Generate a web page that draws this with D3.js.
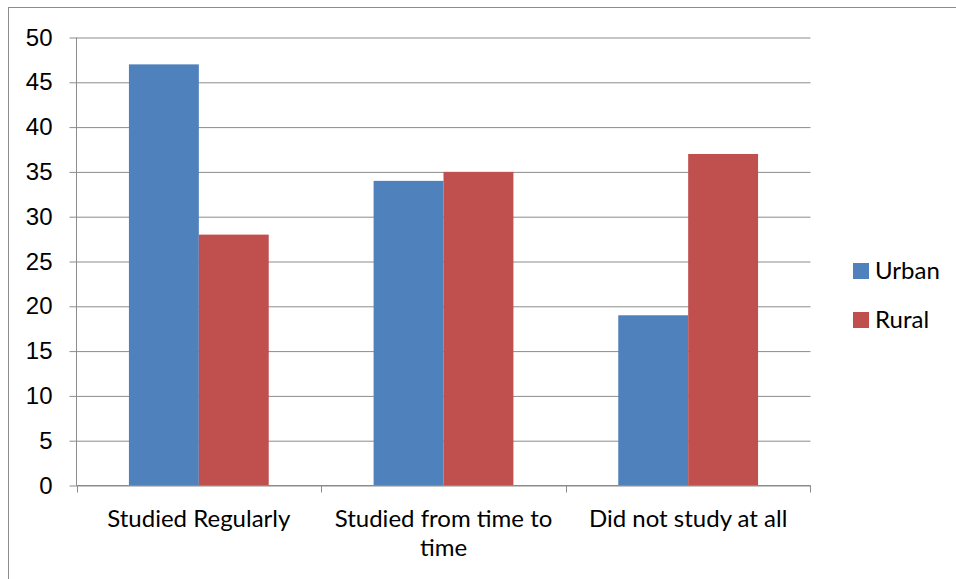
<!DOCTYPE html>
<html>
<head>
<meta charset="utf-8">
<script src="https://cdn.jsdelivr.net/npm/d3@7"></script>
<style>
  html, body { margin: 0; padding: 0; background: #fff; }
  svg { display: block; font-family: Lato, "Open Sans", sans-serif; }
</style>
</head>
<body>
<svg id="chart" width="956" height="579"></svg>
<script>
// Study habits by area
const categories = ["Studied Regularly", "Studied from time to time", "Did not study at all"];
const seriesNames = ["Urban", "Rural"];
const urban = [47, 34, 19];
const rural = [28, 35, 37];
const yTicks = [0, 5, 10, 15, 20, 25, 30, 35, 40, 45, 50];
const colors = ["#4f81bd", "#c0504d"];

const svg = d3.select("#chart");
const W = 956, H = 579;
const m = { left: 76.5, right: 810.5, top: 37.5, bottom: 485.5 };
const FS = "24px";

// outer chart frame (runs off the right and bottom edges)
svg.append("rect")
  .attr("x", 8.5).attr("y", 7.5)
  .attr("width", W + 10).attr("height", H + 10)
  .attr("fill", "none").attr("stroke", "#8c8c8c").attr("stroke-width", 1);

const x0 = d3.scaleBand().domain(categories).range([m.left, m.right]).paddingInner(0).paddingOuter(0);
const x1 = d3.scaleBand().domain(seriesNames).range([0, x0.bandwidth()]).paddingInner(0).paddingOuter(0.75);
const y = d3.scaleLinear().domain([0, 50]).range([m.bottom, m.top]);

// horizontal gridlines with small left ticks
const yAxis = d3.axisLeft(y).tickValues(yTicks).tickSize(-(m.right - m.left)).tickFormat(d3.format("d"));
const gy = svg.append("g").attr("transform", `translate(${m.left},0)`).call(yAxis);
gy.select(".domain").remove();
gy.selectAll(".tick line").attr("stroke", "#8c8c8c").attr("x1", -7);
gy.selectAll(".tick text").attr("fill", "#000").style("font-size", FS).attr("x", -24);

// bars
const rows = categories.map((c, i) => ({ cat: c, vals: [urban[i], rural[i]] }));
const groups = svg.append("g").selectAll("g").data(rows).join("g")
  .attr("transform", d => `translate(${x0(d.cat)},0)`);
groups.selectAll("rect")
  .data(d => d.vals.map((v, j) => ({ key: seriesNames[j], v, j })))
  .join("rect")
  .attr("x", d => x1(d.key))
  .attr("y", d => y(d.v))
  .attr("width", x1.bandwidth())
  .attr("height", d => y(0) - y(d.v))
  .attr("fill", d => colors[d.j]);

// y axis line
svg.append("line")
  .attr("x1", m.left).attr("x2", m.left).attr("y1", m.top).attr("y2", m.bottom)
  .attr("stroke", "#8c8c8c");

// x axis line with ticks at category boundaries
svg.append("line")
  .attr("x1", m.left).attr("x2", m.right).attr("y1", m.bottom).attr("y2", m.bottom)
  .attr("stroke", "#8c8c8c");
const bounds = categories.map(c => x0(c)).concat([x0(categories[categories.length - 1]) + x0.bandwidth()]);
svg.append("g").selectAll("line").data(bounds).join("line")
  .attr("x1", d => Math.round(d) + 0.5).attr("x2", d => Math.round(d) + 0.5)
  .attr("y1", m.bottom).attr("y2", m.bottom + 7)
  .attr("stroke", "#8c8c8c");

// category labels, wrapped where they are too wide for the band
const labelLines = [["Studied Regularly"], ["Studied from time to", "time"], ["Did not study at all"]];
svg.append("g").selectAll("text").data(categories).join("text")
  .attr("x", d => x0(d) + x0.bandwidth() / 2)
  .attr("y", 527)
  .attr("text-anchor", "middle")
  .style("font-size", FS)
  .attr("fill", "#000")
  .each(function (d, i) {
    const t = d3.select(this);
    labelLines[i].forEach((ln, k) => {
      t.append("tspan").attr("x", x0(d) + x0.bandwidth() / 2).attr("dy", k === 0 ? 0 : 29).text(ln);
    });
  });

// legend
const legend = svg.append("g").selectAll("g").data(seriesNames).join("g")
  .attr("transform", (d, i) => `translate(853,${263 + i * 49})`);
legend.append("rect").attr("width", 16).attr("height", 16).attr("fill", (d, i) => colors[i]);
legend.append("text").attr("x", 22).attr("y", 16)
  .style("font-size", FS).attr("fill", "#000").text(d => d);
</script>
</body>
</html>
